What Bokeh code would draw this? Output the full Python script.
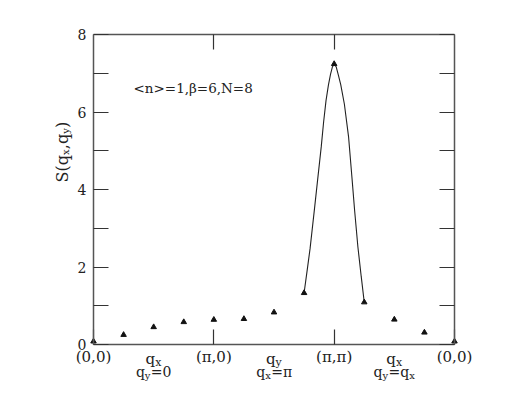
import math
from bokeh.plotting import figure
from bokeh.models import Range1d, LinearAxis, FixedTicker, Label
from bokeh.embed import file_html
from bokeh.resources import INLINE

# ---- data ----
sites = [0, 1, 2, 3, 4, 5, 6, 7, 8, 9, 10, 11, 12]
s_values = [0.08, 0.25, 0.45, 0.58, 0.64, 0.66, 0.83, 1.33, 7.24, 1.09, 0.645, 0.31, 0.08]
curve_x = [7.0, 7.1, 7.2, 7.34, 7.46, 7.57, 7.65, 7.73, 7.81, 7.88, 7.94, 8.0, 8.07, 8.14, 8.22, 8.34, 8.48, 8.59, 8.68, 8.79, 8.9, 9.0]
curve_y = [1.33, 1.9, 2.48, 3.46, 4.32, 5.1, 5.75, 6.30, 6.70, 6.98, 7.16, 7.24, 7.16, 6.95, 6.70, 6.20, 5.35, 4.32, 3.46, 2.51, 1.75, 1.09]
x_tick_pos = [0, 4, 8, 12]
x_tick_labels = ["(0,0)", "(π,0)", "(π,π)", "(0,0)"]
y_major = [0, 2, 4, 6, 8]
y_minor = [1, 3, 5, 7]
annotation = "<n>=1,β=6,N=8"

FONT = "DejaVu Serif"
INK = "#222222"
FRAME = "#555555"

# layout of the drawn box inside the canvas (pixels)
W_PX, H_PX = 504, 387
BOX_L, BOX_R, BOX_T, BOX_B = 93, 454, 34, 344
XMIN, XMAX, YMIN, YMAX = 0, 12, 0, 8
sx = (BOX_R - BOX_L) / (XMAX - XMIN)
sy = (BOX_B - BOX_T) / (YMAX - YMIN)

p = figure(width=W_PX, height=H_PX, output_backend="svg", toolbar_location=None,
           x_range=Range1d(XMIN - BOX_L / sx, XMAX + (W_PX - BOX_R) / sx),
           y_range=Range1d(YMIN - (H_PX - BOX_B) / sy, YMAX + BOX_T / sy),
           x_axis_location=None, y_axis_location=None,
           min_border=0, min_border_left=0, min_border_right=0,
           min_border_top=0, min_border_bottom=0)
p.title.visible = False
p.xgrid.visible = False
p.ygrid.visible = False
p.outline_line_color = None
p.background_fill_color = "white"
p.border_fill_color = "white"


def style_axis(ax):
    ax.axis_line_color = FRAME
    ax.axis_line_width = 1.5
    ax.major_tick_in = 15
    ax.major_tick_out = 0
    ax.minor_tick_in = 15
    ax.minor_tick_out = 0
    ax.major_tick_line_color = "#333333"
    ax.minor_tick_line_color = "#333333"
    ax.major_tick_line_width = 1.2
    ax.minor_tick_line_width = 1.2
    ax.major_label_text_font = FONT
    ax.major_label_text_color = INK
    ax.major_label_text_font_size = "15px"


left = LinearAxis(ticker=FixedTicker(ticks=y_major, minor_ticks=y_minor),
                  fixed_location=XMIN, bounds=(YMIN, YMAX))
style_axis(left)
left.major_label_standoff = 7
left.major_label_text_font_size = "14px"
p.add_layout(left, "left")

right = LinearAxis(ticker=FixedTicker(ticks=[], minor_ticks=y_major + y_minor),
                   fixed_location=XMAX, bounds=(YMIN, YMAX))
style_axis(right)
p.add_layout(right, "right")

top = LinearAxis(ticker=FixedTicker(ticks=[], minor_ticks=[4, 8]),
                 fixed_location=YMAX, bounds=(XMIN, XMAX))
style_axis(top)
p.add_layout(top, "above")

bottom = LinearAxis(ticker=FixedTicker(ticks=x_tick_pos),
                    major_label_overrides={t: s for t, s in zip(x_tick_pos, x_tick_labels)},
                    fixed_location=YMIN, bounds=(XMIN, XMAX))
style_axis(bottom)
bottom.major_label_standoff = 3
p.add_layout(bottom, "below")

# ---- data marks ----
p.line(curve_x, curve_y, line_color="#222222", line_width=1.1)
p.scatter(sites, s_values, marker="triangle", size=5.5, fill_color="#111111", line_color="#111111")

# ---- text helpers ----
WID = {"q": 0.640, "x": 0.592, "y": 0.592, "=": 0.838, "0": 0.636, "π": 0.62,
       "S": 0.685, "(": 0.390, ")": 0.390, ",": 0.318}


def width(t, size):
    return sum(WID.get(c, 0.6) for c in t) * size


def row(xc, yb, parts):
    total = sum(width(t, s) for t, s, _ in parts)
    off = -total / 2
    for t, s, dy in parts:
        p.add_layout(Label(x=xc, y=yb, x_offset=off, y_offset=dy, text=t,
                           text_font=FONT, text_font_size=f"{s}px", text_color=INK,
                           text_align="left", text_baseline="alphabetic"))
        off += width(t, s)


# bottom two-line labels
line1_y = -0.387
line2_y = -0.72
row(2, line1_y, [("q", 15, 0), ("x", 11, -3)])
row(2, line2_y, [("q", 14, 0), ("y", 10, -3), ("=0", 14, 0)])
row(6, line1_y, [("q", 15, 0), ("y", 11, -3)])
row(6, line2_y, [("q", 14, 0), ("x", 10, -3), ("=π", 14, 0)])
row(10, line1_y, [("q", 15, 0), ("x", 11, -3)])
row(10, line2_y, [("q", 14, 0), ("y", 10, -3), ("=q", 14, 0), ("x", 10, -3)])

# rotated y-axis title S(q_x,q_y)
ypieces = [("S(q", 16, 0), ("x", 10, 3), (",q", 16, 0), ("y", 10, 3), (")", 16, 0)]
off = 0
for t, s, dx in ypieces:
    p.add_layout(Label(x=-1.03, y=4.18, x_offset=dx, y_offset=off, text=t, angle=math.pi / 2,
                       text_font=FONT, text_font_size=f"{s}px", text_color=INK,
                       text_align="left", text_baseline="alphabetic"))
    off += width(t, s)

# annotation
p.add_layout(Label(x=1.33, y=6.61, text=annotation, text_font=FONT, text_font_size="13.5px",
                   text_color=INK, text_align="left", text_baseline="alphabetic"))

open("out.html", "w").write(file_html(p, INLINE))
